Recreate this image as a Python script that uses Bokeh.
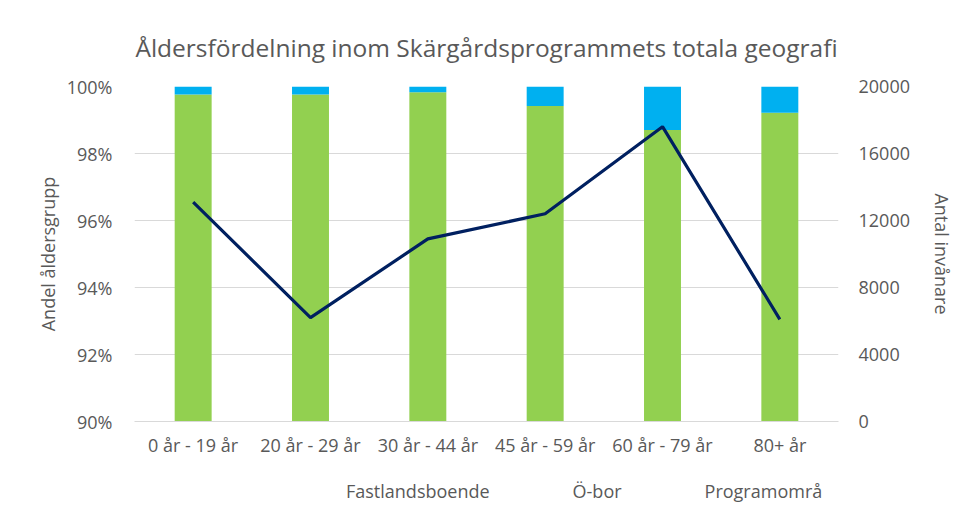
from bokeh.plotting import figure
from bokeh.models import (ColumnDataSource, FactorRange, Range1d, LinearAxis,
                          FixedTicker, PrintfTickFormatter, Legend)
from bokeh.layouts import column
from bokeh.embed import file_html
from bokeh.resources import INLINE

categories = ["0 år - 19 år", "20 år - 29 år", "30 år - 44 år",
              "45 år - 59 år", "60 år - 79 år", "80+ år"]
fastland = [99.76, 99.76, 99.83, 99.42, 98.70, 99.22]
oebor = [0.24, 0.24, 0.17, 0.58, 1.30, 0.78]
antal = [13100, 6200, 10900, 12400, 17600, 6100]
left_ticks = [90, 92, 94, 96, 98, 100]
right_ticks = [0, 4000, 8000, 12000, 16000, 20000]
series_names = ["Fastlandsboende", "Ö-bor", "Programområdet som helhet"]

FONT = "Open Sans"
GREY = "#595959"
GREEN, BLUE, NAVY = "#92D050", "#00B0F0", "#002060"

src = ColumnDataSource(dict(cat=categories, fast=fastland, oe=oebor, antal=antal))

p = figure(x_range=FactorRange(*categories), y_range=Range1d(90, 100),
           frame_width=704, frame_height=335, output_backend="svg",
           toolbar_location=None,
           min_border_left=134, min_border_right=112, min_border_top=86,
           min_border_bottom=40)
p.extra_y_ranges = {"antal": Range1d(0, 20000)}

p.title.text = "Åldersfördelning inom Skärgårdsprogrammets totala geografi"
p.title.align = "center"
p.title.text_font = FONT
p.title.text_font_size = "24.5px"
p.title.text_font_style = "normal"
p.title.text_color = GREY
p.title.standoff = 46

p.vbar_stack(["fast", "oe"], x="cat", width=0.315, source=src,
             color=[GREEN, BLUE], line_color=None)
p.line(x="cat", y="antal", source=src, y_range_name="antal",
       line_color=NAVY, line_width=3.2)

p.outline_line_color = None
p.xgrid.grid_line_color = None
p.ygrid.grid_line_color = "#d9d9d9"
p.ygrid.grid_line_width = 1

# left axis
ya = p.yaxis[0]
ya.ticker = FixedTicker(ticks=left_ticks)
ya.formatter = PrintfTickFormatter(format="%d%%")
ya.axis_label = "Andel åldersgrupp"
ya.axis_line_color = None
ya.major_tick_line_color = None
ya.minor_tick_line_color = None
ya.major_label_standoff = 16
ya.axis_label_standoff = 4

# right axis
ra = LinearAxis(y_range_name="antal", ticker=FixedTicker(ticks=right_ticks),
                axis_label="Antal invånare")
ra.axis_line_color = None
ra.major_tick_line_color = None
ra.minor_tick_line_color = None
ra.major_label_standoff = 14
ra.axis_label_standoff = 17
p.add_layout(ra, "right")

xa = p.xaxis[0]
xa.axis_line_color = "#d9d9d9"
xa.major_tick_line_color = None
xa.minor_tick_line_color = None
xa.major_label_standoff = 5

for ax in (ya, ra, xa):
    ax.major_label_text_font = FONT
    ax.major_label_text_font_size = "18px"
    ax.major_label_text_color = GREY
    ax.axis_label_text_font = FONT
    ax.axis_label_text_font_size = "18px"
    ax.axis_label_text_font_style = "normal"
    ax.axis_label_text_color = GREY

# legend strip below the chart
p2 = figure(width=940, height=46, x_range=Range1d(0, 1), y_range=Range1d(0, 1),
            output_backend="svg", toolbar_location=None,
            x_axis_location=None, y_axis_location=None,
            min_border_left=0, min_border_right=0, min_border_top=0,
            min_border_bottom=0)
p2.outline_line_color = None
p2.xgrid.grid_line_color = None
p2.ygrid.grid_line_color = None
r1 = p2.vbar(x=[], top=[], width=0.1, color=GREEN, line_color=None)
r2 = p2.vbar(x=[], top=[], width=0.1, color=BLUE, line_color=None)
r3 = p2.line(x=[], y=[], line_color=NAVY, line_width=3.2)

legend = Legend(items=[(series_names[0], [r1]), (series_names[1], [r2]),
                       (series_names[2], [r3])],
                orientation="horizontal", location=(169, 4))
legend.label_text_font = FONT
legend.label_text_font_size = "18px"
legend.label_text_color = GREY
legend.glyph_width = 38
legend.glyph_height = 8
legend.label_standoff = 5
legend.spacing = 40
legend.padding = 0
legend.margin = 0
legend.border_line_color = None
legend.background_fill_alpha = 0
p2.add_layout(legend, "center")

lay = column(p, p2, spacing=0)

open("out.html", "w").write(file_html(lay, INLINE))
